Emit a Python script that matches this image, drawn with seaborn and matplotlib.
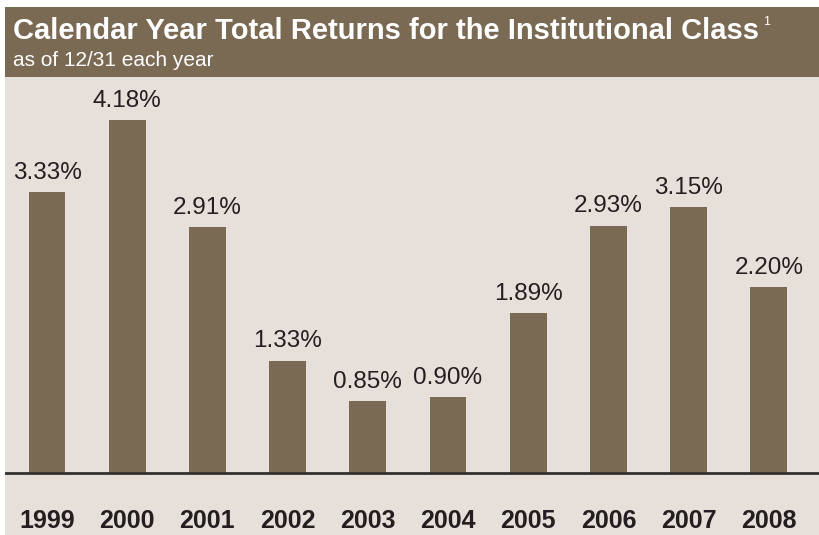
import matplotlib
matplotlib.use("Agg")
import matplotlib.pyplot as plt
from matplotlib.patches import Rectangle
import seaborn as sns
import pandas as pd

# ---- data ----
years = ["1999", "2000", "2001", "2002", "2003", "2004", "2005", "2006", "2007", "2008"]
returns = [3.33, 4.18, 2.91, 1.33, 0.85, 0.90, 1.89, 2.93, 3.15, 2.20]

TITLE = "Calendar Year Total Returns for the Institutional Class"
SUBTITLE = "as of 12/31 each year"

BROWN = "#7a6953"
BG = "#e7e0da"
DARK = "#231f20"

sns.set_theme(style="white")
plt.rcParams["font.family"] = ["Liberation Sans Narrow", "Liberation Sans", "DejaVu Sans"]

df = pd.DataFrame({"year": years, "ret": returns})

W, H = 819, 535
fig = plt.figure(figsize=(W / 100, H / 100), dpi=100)
fig.patch.set_facecolor("white")

# header band
fig.patches.append(Rectangle((5 / W, (H - 77) / H), 1 - 5 / W, 70 / H,
                             transform=fig.transFigure, facecolor=BROWN,
                             edgecolor="none", zorder=0))
fig.text(13 / W, (H - 31) / H, TITLE, color="white", fontsize=21,
         fontweight="bold", va="center", ha="left")
fig.text(763 / W, (H - 22) / H, "1", color="white", fontsize=9, va="center", ha="left")
fig.text(13 / W, (H - 60) / H, SUBTITLE, color="white", fontsize=15,
         va="center", ha="left")

# plotting body
ax = fig.add_axes([5 / W, 0, 1 - 5 / W, (H - 77) / H])
ax.set_facecolor(BG)
sns.barplot(data=df, x="year", y="ret", color=BROWN, width=0.46,
            saturation=1, linewidth=0, ax=ax)

ax.set_xlim(-0.524, 9.626)
ax.set_ylim(-0.735, 4.692)
ax.axhline(0, color="#333130", linewidth=2, zorder=3)

for c in ax.containers:
    ax.bar_label(c, labels=[f"{v:.2f}%" for v in returns], padding=6,
                 fontsize=17.5, color=DARK)

for i, y in enumerate(years):
    ax.text(i, -0.57, y, ha="center", va="center", fontsize=18,
            fontweight="bold", color=DARK)

ax.set_xticks([])
ax.set_yticks([])
ax.set_xlabel("")
ax.set_ylabel("")
for s in ax.spines.values():
    s.set_visible(False)

fig.savefig("out.png", dpi=100)
